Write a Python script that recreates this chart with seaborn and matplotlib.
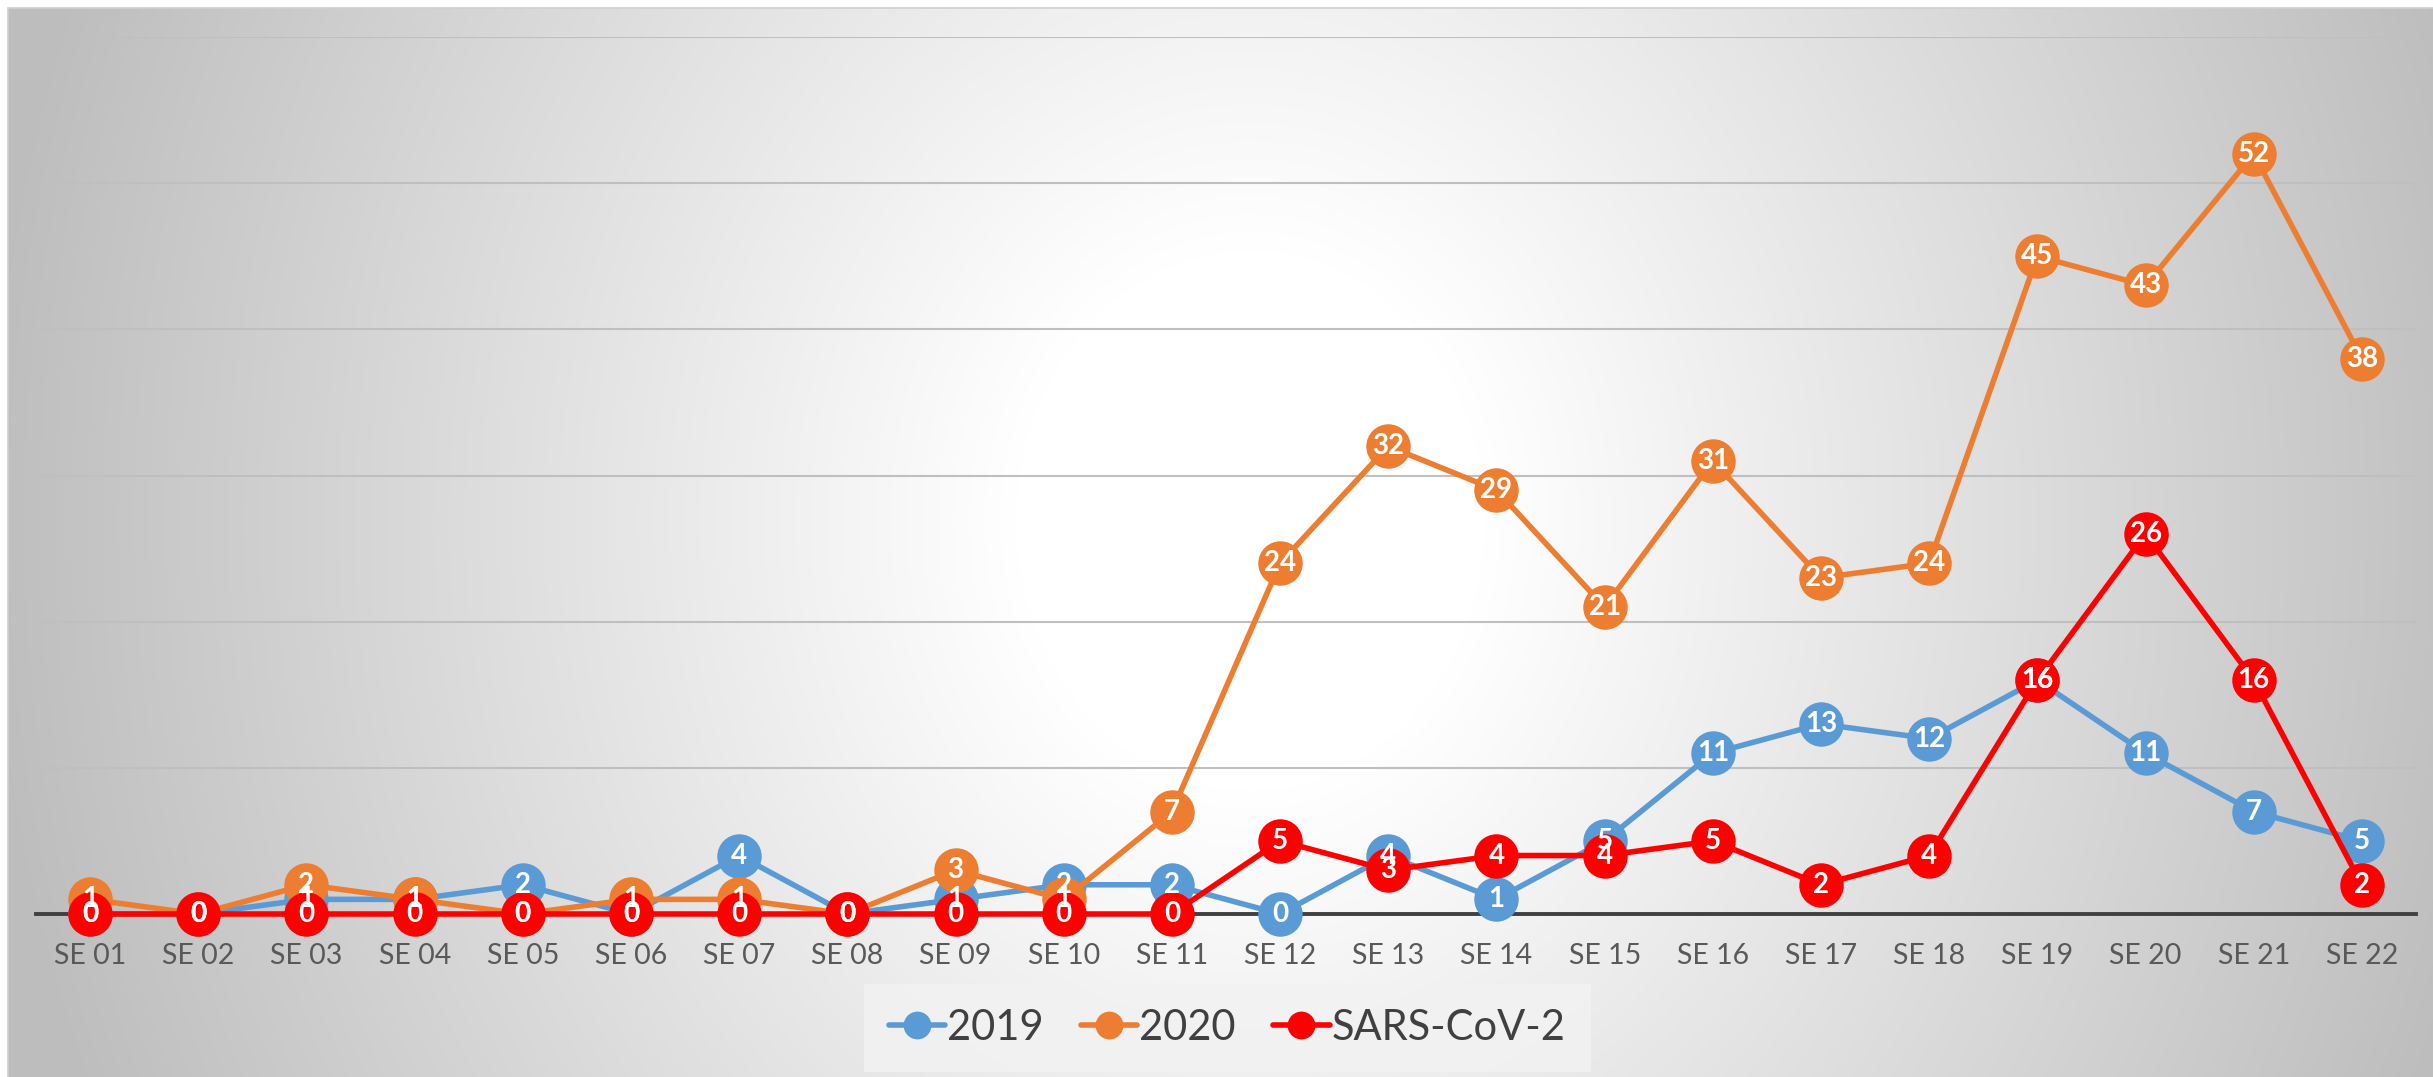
import numpy as np
import pandas as pd
import matplotlib
matplotlib.use("Agg")
import matplotlib.pyplot as plt
from matplotlib.lines import Line2D
from matplotlib.patches import Rectangle
import seaborn as sns

weeks = ["SE 01", "SE 02", "SE 03", "SE 04", "SE 05", "SE 06", "SE 07", "SE 08",
         "SE 09", "SE 10", "SE 11", "SE 12", "SE 13", "SE 14", "SE 15", "SE 16",
         "SE 17", "SE 18", "SE 19", "SE 20", "SE 21", "SE 22"]
values_2019 = [0, 0, 1, 1, 2, 0, 4, 0, 1, 2, 2, 0, 4, 1, 5, 11, 13, 12, 16, 11, 7, 5]
values_2020 = [1, 0, 2, 1, 0, 1, 1, 0, 3, 1, 7, 24, 32, 29, 21, 31, 23, 24, 45, 43, 52, 38]
values_sars = [0, 0, 0, 0, 0, 0, 0, 0, 0, 0, 0, 5, 3, 4, 4, 5, 2, 4, 16, 26, 16, 2]
series_names = ["2019", "2020", "SARS-CoV-2"]
colors = ["#5B9BD5", "#ED7D31", "#FF0000"]

sns.set_theme(style="white")
plt.rcParams["font.family"] = ["Lato", "DejaVu Sans"]

W, H = 2433, 1077
fig = plt.figure(figsize=(W / 100, H / 100), dpi=100)
fig.patch.set_facecolor("white")

# radial gradient background of chart area
x0, y0 = 8, 8
xs = np.arange(x0, W)
ys = np.arange(y0, H)
XX, YY = np.meshgrid(xs, ys)
cx, cy = 1250, 520
t = np.sqrt(((XX - cx) / 1300.0) ** 2 + ((YY - cy) / 1500.0) ** 2)
v = 255 - 66 * np.clip((t - 0.18) / 0.8, 0, 1)
img = np.dstack([v, v, v]) / 255.0
bg = fig.add_axes([x0 / W, 0, 1 - x0 / W, 1 - y0 / H])
bg.imshow(img, aspect="auto", extent=[0, 1, 0, 1], origin="upper", interpolation="bilinear")
bg.set_axis_off()
bg.set_zorder(-10)
fig.patches.append(Rectangle((x0 / W, -0.01), 1.02, 1 - y0 / H + 0.01, transform=fig.transFigure,
                             fill=False, edgecolor="#d0d0d0", linewidth=1.2, zorder=-5))

ax = fig.add_axes([36 / W, 1 - 914 / H, (2416 - 36) / W, (914 - 37) / H])
ax.patch.set_alpha(0)

rows = []
for name, vals in zip(series_names, [values_2019, values_2020, values_sars]):
    for i, (wk, val) in enumerate(zip(weeks, vals)):
        rows.append({"idx": i, "week": wk, "value": val, "series": name})
df = pd.DataFrame(rows)

sns.lineplot(data=df, x="idx", y="value", hue="series", hue_order=series_names,
             palette=colors, marker="o", markersize=32, markeredgewidth=0,
             linewidth=4, sort=False, ax=ax, legend=False, errorbar=None)
for ln in ax.lines:
    ln.set_clip_on(False)
    ln.set_zorder(3)

for name, vals in zip(series_names, [values_2019, values_2020, values_sars]):
    for i, val in enumerate(vals):
        ax.text(i, val, str(val), ha="center", va="center", color="white",
                fontsize=20, fontweight="bold", zorder=6, clip_on=False)

ax.set_xlim(-0.5, len(weeks) - 0.5)
ax.set_ylim(0, 60)
ax.set_yticks(range(0, 61, 10))
ax.set_yticklabels([])
ax.yaxis.grid(True, color="#bfbfbf", linewidth=1.5)
ax.set_axisbelow(True)
ax.set_xticks(range(len(weeks)))
ax.set_xticklabels(weeks, fontsize=20.5, color="#595959")
ax.tick_params(axis="x", length=0, pad=21)
ax.tick_params(axis="y", length=0)
ax.set_xlabel("")
ax.set_ylabel("")
for s in ["top", "right", "left"]:
    ax.spines[s].set_visible(False)
ax.spines["bottom"].set_color("#404040")
ax.spines["bottom"].set_linewidth(2.8)
ax.spines["bottom"].set_zorder(2.5)

handles = [Line2D([0], [0], color=c, lw=4, marker="o", markersize=20, markeredgewidth=0)
           for c in colors]
leg = fig.legend(handles, series_names, loc="center", bbox_to_anchor=(1227 / W, 1 - 1028 / H),
                 ncol=3, frameon=True, fontsize=30, handlelength=1.35, handletextpad=0.05,
                 columnspacing=0.9, borderpad=0.6, fancybox=False)
leg.get_frame().set_facecolor("#f2f2f2")
leg.get_frame().set_alpha(0.85)
leg.get_frame().set_edgecolor("none")
for txt in leg.get_texts():
    txt.set_color("#404040")

fig.savefig("out.png", dpi=100)
